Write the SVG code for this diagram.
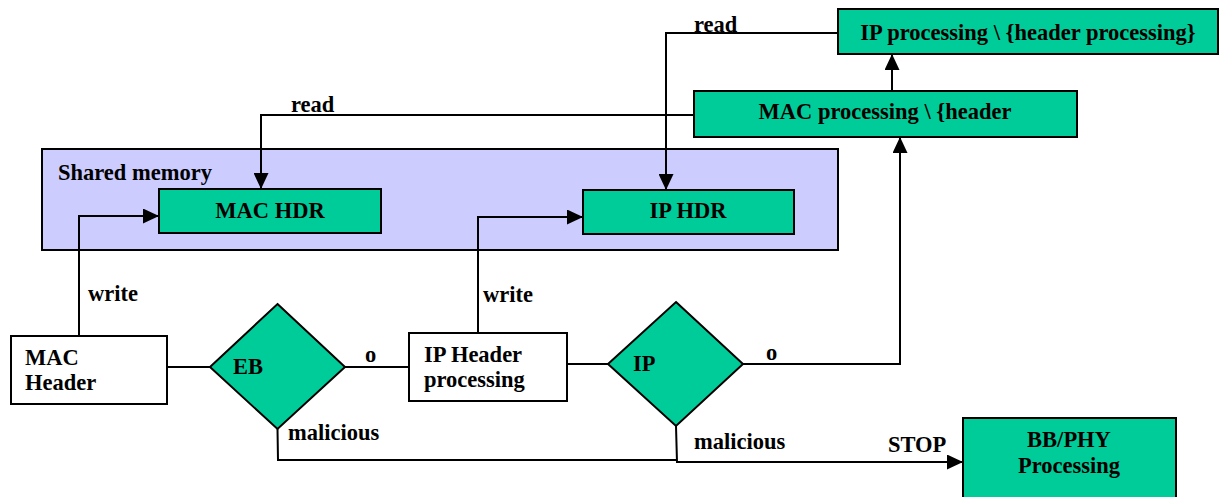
<svg xmlns="http://www.w3.org/2000/svg" width="1220" height="497" viewBox="0 0 1220 497">
  <style>
    text { font-family: "Liberation Serif", "Times New Roman", serif; font-weight: bold; font-size: 22.5px; fill: #000; }
    .mid { text-anchor: middle; }
    .proc { fill: #00CC99; stroke: #000; stroke-width: 2; }
    .plain { fill: #fff; stroke: #000; stroke-width: 2; }
    .mem { fill: #CCCCFF; stroke: #000; stroke-width: 2; }
    .link { fill: none; stroke: #000; stroke-width: 2; }
  </style>
  <defs>
    <marker id="arrow" viewBox="0 0 16 15" refX="16" refY="7.5" markerWidth="16" markerHeight="15" markerUnits="userSpaceOnUse" orient="auto">
      <path d="M0,0 L16,7.5 L0,15 z" fill="#000"/>
    </marker>
  </defs>
  <rect width="1220" height="497" fill="#fff"/>

  <!-- shared memory region -->
  <g id="shared-memory">
    <rect class="mem" x="42" y="149" width="796" height="101"/>
    <text x="58" y="180">Shared memory</text>
  </g>

  <g id="mac-hdr">
    <rect class="proc" x="159" y="189" width="222" height="44"/>
    <text class="mid" x="270" y="218">MAC HDR</text>
  </g>

  <g id="ip-hdr">
    <rect class="proc" x="583" y="190" width="211" height="44"/>
    <text class="mid" x="688" y="218">IP HDR</text>
  </g>

  <g id="ip-processing">
    <rect class="proc" x="838" y="9" width="380" height="45"/>
    <text class="mid" x="1028" y="40">IP processing \ {header processing}</text>
  </g>

  <g id="mac-processing">
    <rect class="proc" x="694" y="91" width="383" height="46"/>
    <text class="mid" x="885" y="119">MAC processing \ {header</text>
  </g>

  <g id="mac-header">
    <rect class="plain" x="11" y="336" width="156" height="68"/>
    <text x="25" y="365">MAC</text>
    <text x="25" y="390">Header</text>
  </g>

  <g id="eb-check">
    <polygon class="proc" points="277.5,304 345,367 277.5,429 210,367"/>
    <text x="233" y="374">EB</text>
  </g>

  <g id="ip-header-processing">
    <rect class="plain" x="409" y="333" width="158" height="68"/>
    <text x="424" y="362">IP Header</text>
    <text x="424" y="387">processing</text>
  </g>

  <g id="ip-check">
    <polygon class="proc" points="676,302 743,364 676,426 608,364"/>
    <text x="633" y="371">IP</text>
  </g>

  <g id="bb-phy">
    <rect class="proc" x="963" y="418" width="213" height="90"/>
    <text class="mid" x="1069" y="447">BB/PHY</text>
    <text class="mid" x="1069" y="473">Processing</text>
  </g>

  <g id="connectors">
    <!-- writes into shared memory -->
    <polyline class="link" points="79,336 79,216 159,216" marker-end="url(#arrow)"/>
    <polyline class="link" points="478,333 478,217 583,217" marker-end="url(#arrow)"/>
    <!-- reads from shared memory -->
    <polyline class="link" points="694,115 261,115 261,189" marker-end="url(#arrow)"/>
    <polyline class="link" points="838,33 666,33 666,190" marker-end="url(#arrow)"/>
    <!-- processing chain -->
    <line class="link" x1="892" y1="91" x2="892" y2="54" marker-end="url(#arrow)"/>
    <polyline class="link" points="743,364 900,364 900,137" marker-end="url(#arrow)"/>
    <line class="link" x1="167" y1="367" x2="210" y2="367"/>
    <line class="link" x1="345" y1="367" x2="409" y2="367"/>
    <line class="link" x1="567" y1="364" x2="608" y2="364"/>
    <!-- malicious paths -->
    <polyline class="link" points="277.5,429 278,460 677,460"/>
    <polyline class="link" points="676,426 677,462 963,462" marker-end="url(#arrow)"/>

    <text x="88" y="301">write</text>
    <text x="483" y="302">write</text>
    <text x="291" y="112">read</text>
    <text x="694" y="32">read</text>
    <text x="365" y="362">o</text>
    <text x="766" y="360">o</text>
    <text x="288" y="440">malicious</text>
    <text x="694" y="449">malicious</text>
    <text x="888" y="452">STOP</text>
  </g>
</svg>
